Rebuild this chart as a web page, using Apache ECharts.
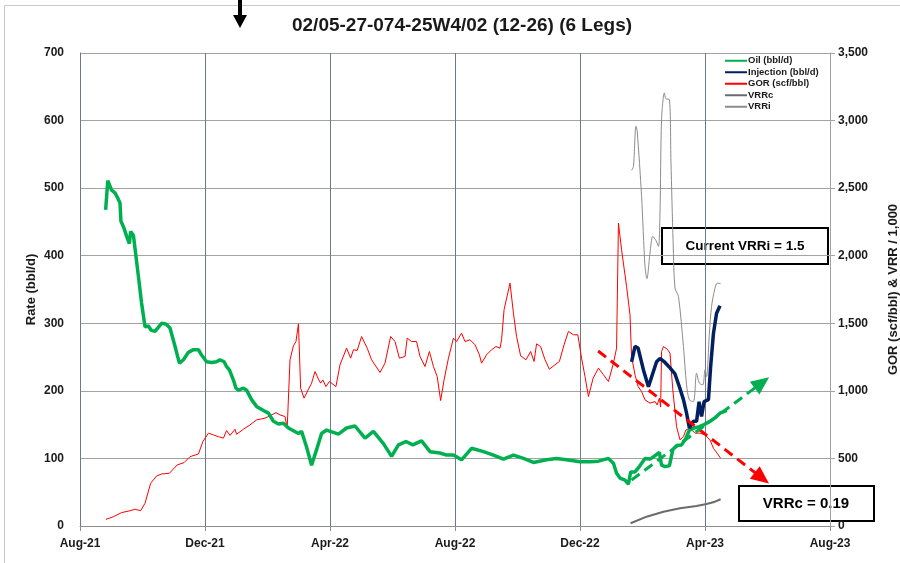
<!DOCTYPE html>
<html>
<head>
<meta charset="utf-8">
<script src="https://cdn.jsdelivr.net/npm/echarts@6/dist/echarts.min.js"></script>
<style>
  html, body { margin: 0; padding: 0; background: #fff; }
  #main { width: 900px; height: 563px; }
</style>
</head>
<body>
<div id="main"></div>
<script>
// x values are months after 1 Aug 2021
var monthLabels = ['Aug-21', 'Dec-21', 'Apr-22', 'Aug-22', 'Dec-22', 'Apr-23', 'Aug-23'];

var oil = [
  [0.82,468],[0.89,511],[1.01,497],[1.12,493],[1.21,485],[1.28,478],[1.31,451],[1.39,443],[1.49,429],
  [1.58,418],[1.62,436],[1.71,430],[1.87,369],[1.97,330],[2.08,295],[2.19,296],[2.27,290],[2.40,288],
  [2.61,300],[2.75,299],[2.88,293],[3.04,266],[3.18,241],[3.31,246],[3.47,257],[3.63,261],[3.79,261],
  [3.89,253],[4.05,243],[4.21,242],[4.37,243],[4.48,246],[4.61,243],[4.69,236],[4.78,231],[4.91,216],
  [4.99,204],[5.07,201],[5.23,204],[5.33,201],[5.49,187],[5.65,177],[5.87,171],[6.03,167],[6.19,155],
  [6.35,151],[6.51,152],[6.67,145],[6.83,141],[6.99,137],[7.09,140],[7.25,117],[7.41,90],[7.57,113],
  [7.73,137],[7.89,142],[8.27,136],[8.53,145],[8.80,148],[9.12,130],[9.39,140],[9.71,122],[9.97,103],
  [10.19,120],[10.43,125],[10.65,120],[10.93,126],[11.20,110],[11.52,108],[11.73,105],[11.95,105],
  [12.21,98],[12.53,115],[12.91,110],[13.23,105],[13.55,99],[13.87,105],[14.19,100],[14.51,94],
  [14.93,98],[15.25,100],[15.57,98],[16.00,95],[16.32,95],[16.59,96],[16.91,100],[17.07,93],[17.17,78],
  [17.28,71],[17.44,68],[17.55,62],[17.62,80],[17.76,80],[17.90,88],[18.08,100],[18.24,99],[18.40,104],
  [18.54,109],[18.61,90],[18.72,88],[18.86,89],[18.97,113],[19.09,119],[19.25,120],[19.39,130],
  [19.50,142],[19.65,145],[19.82,147],[19.97,150],[20.16,155],[20.32,160],[20.48,167],[20.70,171]
];

var injection = [
  [17.65,243],[17.76,266],[17.86,263],[18.03,231],[18.19,206],[18.33,226],[18.45,243],[18.56,248],
  [18.72,242],[18.88,234],[19.04,225],[19.18,206],[19.31,187],[19.41,167],[19.50,145],[19.63,155],
  [19.73,155],[19.81,184],[19.89,162],[19.97,184],[20.11,187],[20.18,236],[20.27,285],[20.37,315],
  [20.48,326]
];

var gor = [
  [0.83,49],[1.07,69],[1.33,99],[1.60,113],[1.76,124],[1.94,113],[2.08,168],[2.26,316],[2.45,370],
  [2.61,385],[2.86,390],[3.11,452],[3.33,469],[3.52,513],[3.79,533],[3.93,624],[4.11,687],[4.27,674],
  [4.43,661],[4.59,650],[4.69,706],[4.80,670],[4.96,716],[5.01,679],[5.23,716],[5.44,748],[5.65,785],
  [5.92,798],[6.08,815],[6.27,839],[6.40,822],[6.56,810],[6.63,724],[6.72,1230],[6.83,1333],[6.91,1365],
  [6.99,1496],[7.06,1020],[7.17,946],[7.30,1007],[7.41,1057],[7.52,1143],[7.63,1087],[7.70,1057],
  [7.77,1081],[7.87,1032],[7.98,1069],[8.19,1032],[8.32,1193],[8.53,1316],[8.66,1242],[8.75,1304],
  [8.87,1299],[9.01,1402],[9.19,1316],[9.33,1230],[9.60,1136],[9.76,1205],[9.94,1402],[10.08,1365],
  [10.22,1242],[10.40,1254],[10.47,1390],[10.61,1365],[10.77,1365],[10.88,1254],[11.04,1180],
  [11.18,1291],[11.31,1180],[11.43,1106],[11.54,928],[11.65,1081],[11.79,1242],[11.95,1390],
  [12.05,1365],[12.21,1427],[12.32,1365],[12.48,1378],[12.64,1341],[12.78,1267],[12.85,1205],
  [13.01,1267],[13.17,1304],[13.31,1328],[13.44,1316],[13.49,1378],[13.57,1600],[13.76,1797],
  [13.87,1575],[13.97,1402],[14.10,1259],[14.27,1230],[14.42,1291],[14.53,1217],[14.61,1348],
  [14.74,1328],[14.88,1230],[15.02,1160],[15.20,1193],[15.34,1217],[15.49,1341],[15.63,1440],
  [15.79,1415],[15.93,1415],[16.05,1242],[16.16,1106],[16.27,958],[16.42,1094],[16.59,1168],
  [16.75,1119],[16.91,1069],[17.07,1205],[17.17,1316],[17.23,2242],[17.33,2044],[17.49,1773],
  [17.60,1563],[17.65,1254],[17.76,1119],[17.86,1032],[17.97,995],[18.08,933],[18.24,909],[18.40,921],
  [18.47,896],[18.54,946],[18.58,880],[18.61,1291],[18.67,1328],[18.79,1309],[18.88,1279],[18.97,1007],
  [19.09,735],[19.20,637],[19.31,661],[19.39,711],[19.52,724],[19.68,687],[19.84,687],[20.00,674],
  [20.16,637],[20.27,575],[20.39,538],[20.50,501]
];

// VRR x 1,000 on the right axis
var vrrc = [
  [17.62,20],[18.13,69],[18.67,106],[19.20,131],[19.73,148],[20.05,163],[20.32,180],[20.50,198]
];

var vrri = [
  [17.65,2632],[17.71,2660],[17.79,2958],[17.83,2921],[17.97,2440],[18.08,1921],[18.14,1830],
  [18.24,2020],[18.33,2143],[18.43,2113],[18.51,2069],[18.56,2317],[18.61,3007],[18.70,3205],
  [18.75,3161],[18.86,3156],[18.91,2700],[18.98,2100],[19.04,1760],[19.15,1699],[19.31,1328],
  [19.41,1044],[19.50,933],[19.63,921],[19.73,1131],[19.82,1057],[19.93,1044],[20.00,1156],
  [20.05,1106],[20.14,1427],[20.21,1625],[20.32,1760],[20.39,1797],[20.50,1793]
];

// hand-drawn trend arrows (left axis units)
var vrrcTrend = [[16.58,259],[21.82,71]];
var oilTrend = [[17.65,68],[21.82,212]];

var chartDom = document.getElementById('main');
var myChart = echarts.init(chartDom);
var option;

var font = 'Liberation Sans';

option = {
  animation: false,
  backgroundColor: '#fff',
  textStyle: { fontFamily: font, fontWeight: 'bold' },
  title: {
    text: '02/05-27-074-25W4/02 (12-26) (6 Legs)',
    left: 457,
    textAlign: 'center',
    top: 11,
    textStyle: { fontSize: 19, fontWeight: 'bold', color: '#1a1a1a', fontFamily: font }
  },
  legend: {
    orient: 'vertical',
    left: 724,
    top: 55,
    itemWidth: 22,
    itemHeight: 8,
    itemGap: 0,
    padding: 0,
    itemStyle: { opacity: 0 },
    textStyle: { fontSize: 9.5, lineHeight: 11.5, fontWeight: 'bold', color: '#1a1a1a', fontFamily: font, padding: [0, 0, 0, -4] },
    data: ['Oil (bbl/d)', 'Injection (bbl/d)', 'GOR (scf/bbl)', 'VRRc', 'VRRi']
  },
  grid: { left: 80, top: 53, right: 70, bottom: 37, containLabel: false, outerBoundsMode: 'none' },
  xAxis: {
    type: 'value',
    min: 0,
    max: 24,
    interval: 4,
    axisLine: { lineStyle: { color: '#8c8c8c' } },
    axisTick: { show: true, length: 5, lineStyle: { color: '#8c8c8c' } },
    splitLine: { show: true, lineStyle: { color: '#6f7888', width: 1 } },
    axisLabel: {
      fontSize: 12, fontWeight: 'bold', color: '#1a1a1a', margin: 12, fontFamily: font,
      formatter: function (v) { return monthLabels[Math.round(v / 4)]; }
    }
  },
  yAxis: [
    {
      type: 'value',
      min: 0,
      max: 700,
      interval: 100,
      name: 'Rate (bbl/d)',
      nameLocation: 'middle',
      nameMoveOverlap: false,
      nameGap: 42,
      nameTextStyle: { fontSize: 13, fontWeight: 'bold', color: '#1a1a1a', fontFamily: font },
      axisLine: { show: true, lineStyle: { color: '#6f7888' } },
      axisTick: { show: false },
      splitLine: { show: true, lineStyle: { color: '#a3a3a3', width: 1.2 } },
      axisLabel: { fontSize: 12, fontWeight: 'bold', color: '#1a1a1a', margin: 16, fontFamily: font }
    },
    {
      type: 'value',
      min: 0,
      max: 3500,
      interval: 500,
      position: 'right',
      name: 'GOR (scf/bbl) & VRR / 1,000',
      nameLocation: 'middle',
      nameRotate: 90,
      nameGap: 57,
      nameTextStyle: { fontSize: 13, fontWeight: 'bold', color: '#1a1a1a', fontFamily: font },
      axisLine: { show: true, lineStyle: { color: '#a3a3a3' } },
      axisTick: { show: true, length: 5, lineStyle: { color: '#a3a3a3' } },
      splitLine: { show: false },
      axisLabel: {
        fontSize: 12, fontWeight: 'bold', color: '#1a1a1a', margin: 8, fontFamily: font,
        formatter: function (v) { return v.toLocaleString('en-US'); }
      }
    }
  ],
  series: [
    {
      name: 'GOR (scf/bbl)',
      type: 'line',
      yAxisIndex: 1,
      data: gor,
      symbol: 'none',
      lineStyle: { color: '#ff0000', width: 1 },
      itemStyle: { color: '#ff0000' },
      z: 2
    },
    {
      name: 'VRRc',
      type: 'line',
      yAxisIndex: 1,
      data: vrrc,
      symbol: 'none',
      lineStyle: { color: '#6b6b6b', width: 2 },
      itemStyle: { color: '#6b6b6b' },
      z: 2
    },
    {
      name: 'VRRi',
      type: 'line',
      yAxisIndex: 1,
      data: vrri,
      symbol: 'none',
      smooth: 0.3,
      lineStyle: { color: '#8c8c8c', width: 1 },
      itemStyle: { color: '#a6a6a6' },
      z: 2
    },
    {
      name: 'Oil (bbl/d)',
      type: 'line',
      data: oil,
      symbol: 'none',
      lineStyle: { color: '#00b050', width: 3.5 },
      itemStyle: { color: '#00b050' },
      z: 3,
      markLine: {
        silent: true,
        symbol: ['none', 'triangle'],
        symbolSize: [16, 18],
        label: { show: false },
        data: [
          [
            { coord: vrrcTrend[0], lineStyle: { color: '#ff0000', width: 3, type: [10, 6] }, itemStyle: { color: '#ff0000' } },
            { coord: vrrcTrend[1] }
          ],
          [
            { coord: oilTrend[0], lineStyle: { color: '#00b050', width: 3, type: [10, 6] }, itemStyle: { color: '#00b050' } },
            { coord: oilTrend[1] }
          ]
        ]
      }
    },
    {
      name: 'Injection (bbl/d)',
      type: 'line',
      data: injection,
      symbol: 'none',
      lineStyle: { color: '#002060', width: 3.5 },
      itemStyle: { color: '#002060' },
      z: 4
    }
  ],
  graphic: [
    {
      type: 'rect', silent: true, z: -10,
      shape: { x: 4.5, y: 5.5, width: 920, height: 600 },
      style: { fill: 'none', stroke: '#c8c8c8', lineWidth: 1 }
    },
    {
      type: 'polygon', silent: true,
      shape: { points: [[238, 0], [242, 0], [242, 15], [247, 15], [240, 28], [233, 15], [238, 15]] },
      style: { fill: '#000' }
    },
    {
      type: 'group', left: 661, top: 227, z: 100,
      children: [
        { type: 'rect', shape: { x: 0, y: 0, width: 166, height: 36 }, style: { fill: '#fff', stroke: '#000', lineWidth: 2 } },
        { type: 'text', x: 83, y: 18, style: { text: 'Current VRRi = 1.5', align: 'center', verticalAlign: 'middle', fontSize: 13.5, fontWeight: 'bold', fontFamily: font, fill: '#000' } }
      ]
    },
    {
      type: 'group', left: 738, top: 485, z: 100,
      children: [
        { type: 'rect', shape: { x: 0, y: 0, width: 135, height: 35 }, style: { fill: '#fff', stroke: '#000', lineWidth: 2 } },
        { type: 'text', x: 67, y: 17.5, style: { text: 'VRRc = 0.19', align: 'center', verticalAlign: 'middle', fontSize: 15, fontWeight: 'bold', fontFamily: font, fill: '#000' } }
      ]
    }
  ]
};

option && myChart.setOption(option);
</script>
</body>
</html>
